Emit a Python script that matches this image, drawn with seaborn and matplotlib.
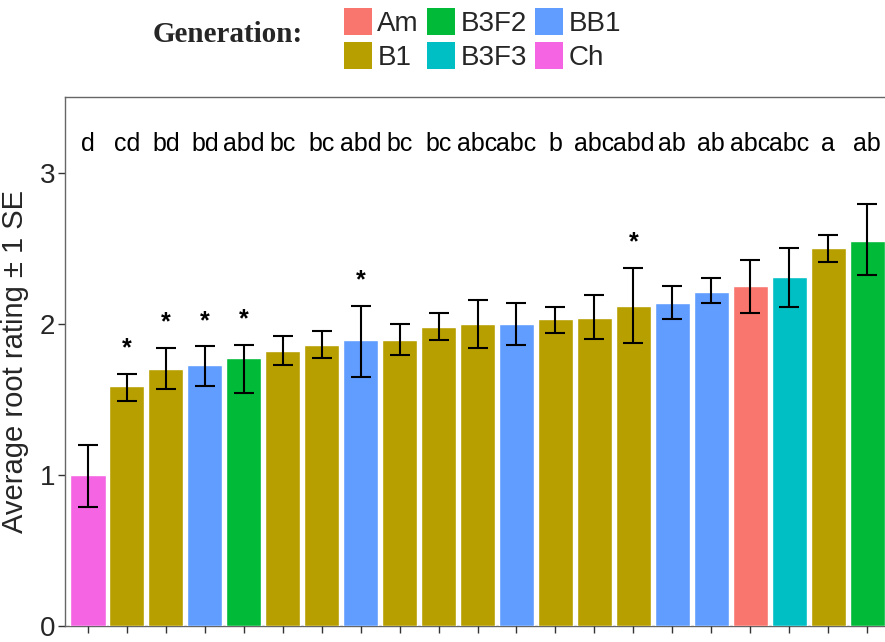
import matplotlib
matplotlib.use("Agg")
import matplotlib.pyplot as plt
from matplotlib.patches import Patch
import numpy as np
import pandas as pd
import seaborn as sns

# values (bars sorted by mean rating)
generation = ["Ch", "B1", "B1", "BB1", "B3F2", "B1", "B1", "BB1", "B1", "B1", "B1",
              "BB1", "B1", "B1", "B1", "BB1", "BB1", "Am", "B3F3", "B1", "B3F2"]
mean_rating = [1.00, 1.59, 1.70, 1.73, 1.77, 1.82, 1.86, 1.89, 1.89, 1.98, 2.00,
               2.00, 2.03, 2.04, 2.12, 2.14, 2.21, 2.25, 2.31, 2.50, 2.55]
se_lower = [0.79, 1.49, 1.57, 1.59, 1.54, 1.73, 1.77, 1.65, 1.79, 1.89, 1.84,
            1.86, 1.94, 1.90, 1.87, 2.03, 2.14, 2.07, 2.11, 2.41, 2.32]
se_upper = [1.20, 1.67, 1.84, 1.85, 1.86, 1.92, 1.95, 2.12, 2.00, 2.07, 2.16,
            2.14, 2.11, 2.19, 2.37, 2.25, 2.30, 2.42, 2.50, 2.59, 2.79]
letters = ["d", "cd", "bd", "bd", "abd", "bc", "bc", "abd", "bc", "bc", "abc",
           "abc", "b", "abc", "abd", "ab", "ab", "abc", "abc", "a", "ab"]
starred = [1, 2, 3, 4, 7, 14]

palette = {"Am": "#F8766D", "B1": "#B79F00", "B3F2": "#00BA38",
           "B3F3": "#00BFC4", "BB1": "#619CFF", "Ch": "#F564E3"}
legend_order = ["Am", "B1", "B3F2", "B3F3", "BB1", "Ch"]

df = pd.DataFrame({"line": [str(i) for i in range(len(mean_rating))],
                   "Generation": generation,
                   "rating": mean_rating,
                   "lo": se_lower,
                   "hi": se_upper})

sns.set_style("white")
plt.rcParams["font.family"] = ["Liberation Sans", "DejaVu Sans"]

fig = plt.figure(figsize=(8.85, 6.42), dpi=100)
ax = fig.add_axes([65 / 885, 16 / 642, 1 - 65 / 885, 529 / 642])

sns.barplot(data=df, x="line", y="rating", hue="Generation", palette=palette,
            dodge=False, width=0.9, legend=False, ax=ax, saturation=1)

xpos = np.arange(len(df))
ax.errorbar(xpos, df["rating"], yerr=[df["rating"] - df["lo"], df["hi"] - df["rating"]],
            fmt="none", ecolor="black", elinewidth=1.5, capsize=7, capthick=1.5, zorder=3)

for i, lab in enumerate(letters):
    ax.text(i, 3.19, lab, ha="center", va="center", fontsize=18, color="black")
for i in starred:
    ax.text(i, df["hi"][i] + 0.12, "*", ha="center", va="baseline",
            fontsize=18, fontweight="bold", color="black")

ax.set_xlim(-0.59, 20.46)
ax.set_ylim(0, 3.5)
ax.set_yticks([0, 1, 2, 3])
ax.set_yticklabels(["0", "1", "2", "3"], fontsize=20)
ax.set_xticks(xpos)
ax.set_xticklabels([])
ax.tick_params(axis="both", which="major", length=5, width=1, color="#333333",
               left=True, bottom=True, pad=2)
ax.set_xlabel("")
ax.set_ylabel("Average root rating \u00b1 1 SE", fontsize=21, labelpad=8)

for side in ["top", "left", "bottom"]:
    ax.spines[side].set_visible(True)
    ax.spines[side].set_color("#666666")
    ax.spines[side].set_linewidth(1)
ax.spines["bottom"].set_zorder(0)
ax.spines["right"].set_visible(False)

handles = [Patch(facecolor=palette[g], edgecolor="none") for g in legend_order]
fig.legend(handles, legend_order, ncol=3, loc="upper left",
           bbox_to_anchor=(344 / 885, 1 - 8 / 642), frameon=False, fontsize=20,
           handlelength=1.0, handleheight=1.1, handletextpad=0.2,
           columnspacing=0.3, labelspacing=0.2, borderpad=0, borderaxespad=0)
fig.text(153 / 885, 1 - 35 / 642, "Generation:", ha="left", va="center",
         fontsize=21, fontweight="bold", family=["Liberation Serif", "DejaVu Serif"])

fig.savefig("out.png", dpi=100)
